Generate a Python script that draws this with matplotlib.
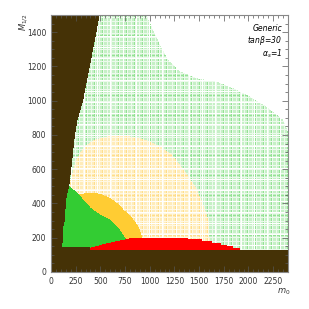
import numpy as np
import matplotlib
matplotlib.use("Agg")
import matplotlib.pyplot as plt
from matplotlib.ticker import MultipleLocator

# --- boundaries (m0, M1/2) ---
stau_M = [0, 140, 250, 300, 420, 500, 615, 800, 888, 1000, 1200, 1400, 1500]
stau_m0 = [110, 115, 120, 141, 151, 184, 208, 242, 269, 325, 393, 460, 493]

red_m0 = [400, 450, 550, 650, 770, 820, 1377, 1378, 1517, 1518, 1618, 1619,
          1709, 1710, 1773, 1774, 1833, 1834, 1903, 1904]
red_M = [142, 150, 165, 178, 192, 200, 200, 190, 190, 180, 180, 170,
         170, 160, 160, 150, 150, 140, 140, 0]

green_m0 = [100, 180, 302, 403, 503, 604, 688, 755, 780]
green_M = [515, 508, 440, 374, 333, 304, 255, 197, 180]

orange_m0 = [250, 282, 360, 436, 520, 604, 680, 738, 800, 839, 880, 913, 925]
orange_M = [445, 452, 462, 463, 452, 430, 398, 362, 330, 304, 270, 226, 190]

yellow_m0 = [190, 252, 335, 450, 600, 750, 900, 1000, 1100, 1208, 1332, 1450,
             1530, 1584, 1595]
yellow_M = [520, 654, 732, 775, 795, 795, 782, 762, 735, 690, 600, 500,
            400, 304, 200]

allowed_m0 = [967, 1064, 1131, 1198, 1299, 1467, 1669, 1836, 2004, 2172, 2339, 2400]
allowed_M = [1500, 1374, 1296, 1228, 1170, 1131, 1111, 1072, 1024, 965, 888, 805]

xticks = [0, 250, 500, 750, 1000, 1250, 1500, 1750, 2000, 2250]
yticks = [0, 200, 400, 600, 800, 1000, 1200, 1400]

brown = np.array([69, 50, 6]) / 255
green = np.array([51, 204, 51]) / 255
orange = np.array([255, 204, 51]) / 255
red = np.array([255, 0, 0]) / 255
white = np.array([1.0, 1.0, 1.0])

nx, ny = 237, 257
m0 = (np.arange(nx) + 0.5) * 2400 / nx
M = (np.arange(ny) + 0.5) * 1500 / ny
X, Y = np.meshgrid(m0, M)
I, J = np.meshgrid(np.arange(nx), np.arange(ny))

# hatched textures (points on a scan grid)
lgreen = np.zeros((ny, nx, 3)) + np.array([198, 240, 198]) / 255
lgreen[(I % 8 == 3) | (J % 10 == 6)] = np.array([150, 226, 150]) / 255
lgreen[(I % 4 == 0) | (J % 4 == 2)] = np.array([236, 250, 236]) / 255
lgreen[(I % 13 == 7) | (J % 11 == 4)] = white
lyellow = np.zeros((ny, nx, 3)) + np.array([255, 236, 186]) / 255
lyellow[(I % 8 == 3) | (J % 10 == 6)] = np.array([255, 222, 140]) / 255
lyellow[(I % 4 == 0) | (J % 4 == 2)] = np.array([255, 248, 228]) / 255
lyellow[(I % 13 == 7) | (J % 11 == 4)] = white

img = np.ones((ny, nx, 3))
top = np.where(X < allowed_m0[0], 1600, np.interp(X, allowed_m0, allowed_M))
img[Y < top] = lgreen[Y < top]
ylim_arc = np.interp(X, yellow_m0, yellow_M, left=0, right=0)
img[Y < ylim_arc] = lyellow[Y < ylim_arc]
img[Y < np.interp(X, orange_m0, orange_M, left=0, right=0)] = orange
img[(Y < np.interp(X, green_m0, green_M, right=0))] = green
img[Y < np.interp(X, red_m0, red_M, left=0, right=0)] = red
bottom = np.where(X < 400, 145, 128)
left = np.interp(Y, stau_M, stau_m0)
img[(Y < bottom) | (X < left)] = brown

fig = plt.figure(figsize=(3.09, 3.09), dpi=100)
ax = fig.add_axes([0.165, 0.12, 0.767, 0.831])
ax.imshow(img, extent=[0, 2400, 0, 1500], origin="lower", aspect="auto",
          interpolation="nearest")
ax.set_xlim(0, 2400)
ax.set_ylim(0, 1500)
ax.set_xticks(xticks)
ax.set_yticks(yticks)
ax.xaxis.set_minor_locator(MultipleLocator(50))
ax.yaxis.set_minor_locator(MultipleLocator(50))
ax.tick_params(which="both", direction="in", top=True, right=True,
               labelsize=5.5, colors="#555555", labelcolor="#333333", width=0.5)
ax.tick_params(which="major", length=4)
ax.tick_params(which="minor", length=2)
for s in ax.spines.values():
    s.set_color("#888888")
    s.set_linewidth(0.8)

fig.text(0.075, 0.93, "$M_{1/2}$", rotation=90, fontsize=6, color="#333333",
         ha="center", va="center")
fig.text(0.917, 0.055, "$m_0$", fontsize=6, color="#333333", ha="center", va="center")
ax.text(0.975, 0.965, "Generic\ntan$\\beta$=30\n$\\alpha_s$=1", transform=ax.transAxes,
        ha="right", va="top", fontsize=5.5, style="italic", linespacing=1.1)

fig.savefig("out.png", dpi=100)
